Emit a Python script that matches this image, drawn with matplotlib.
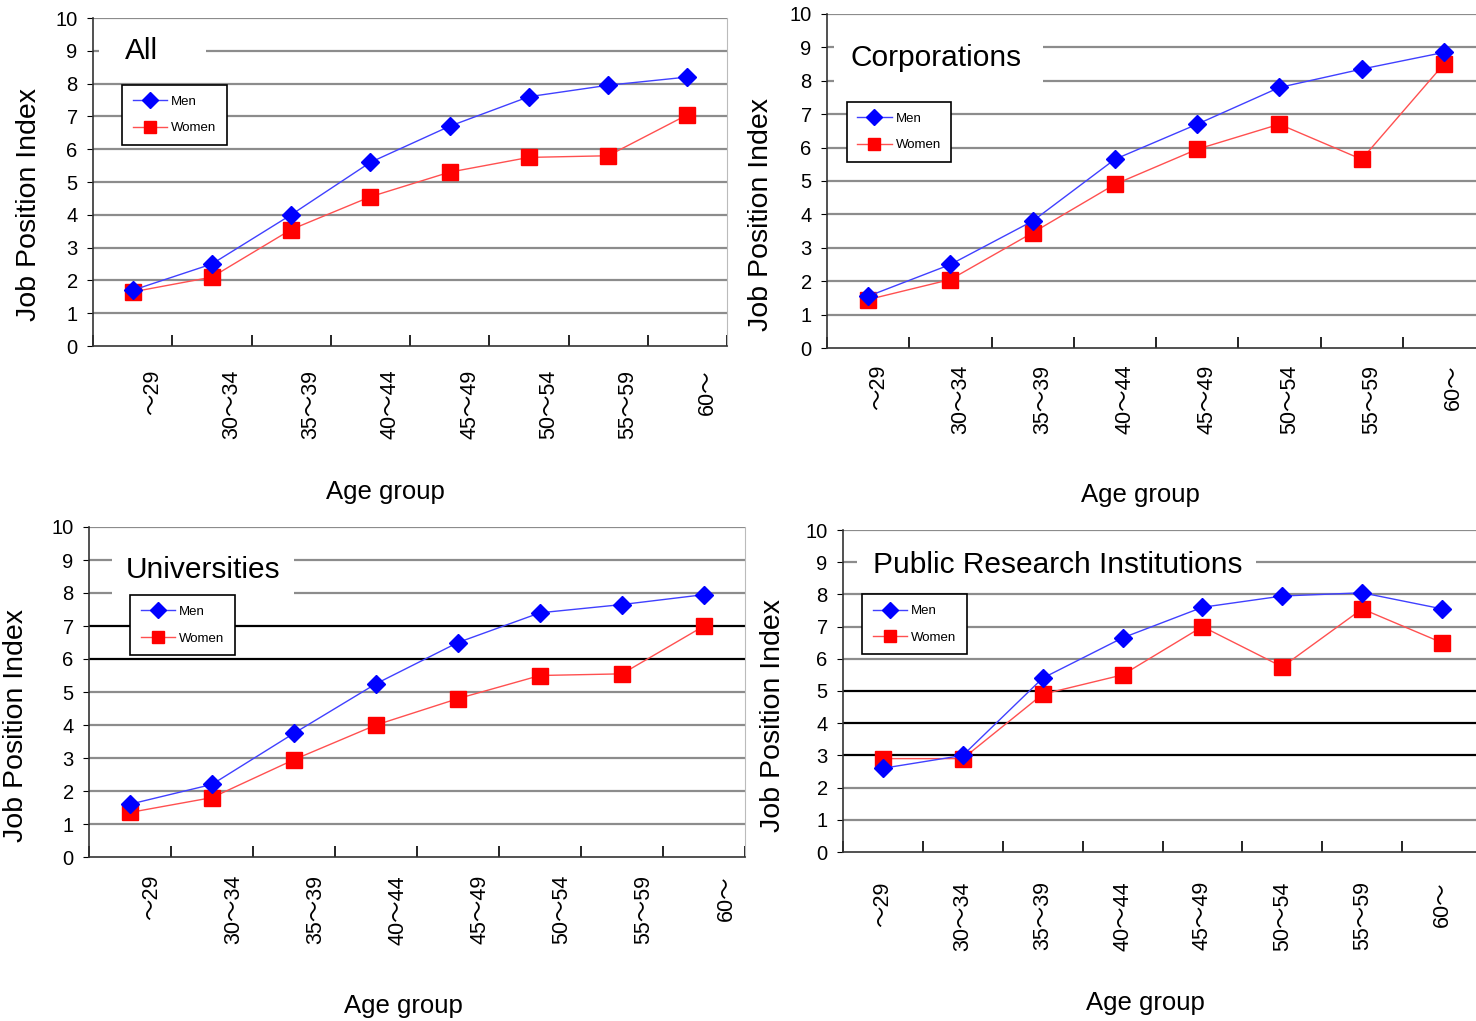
import numpy as np
import matplotlib
matplotlib.use('Agg')
import matplotlib.pyplot as plt
from matplotlib.patches import Rectangle
from matplotlib.transforms import ScaledTranslation

plt.rcParams['font.family'] = ['Liberation Sans', 'Noto Sans CJK KR', 'DejaVu Sans']

age_groups = ['～29', '30～34', '35～39', '40～44', '45～49', '50～54', '55～59', '60～']

all_men = [1.7, 2.5, 4.0, 5.6, 6.7, 7.6, 7.95, 8.2]
all_women = [1.65, 2.1, 3.55, 4.55, 5.3, 5.75, 5.8, 7.05]

corp_men = [1.55, 2.5, 3.8, 5.65, 6.7, 7.8, 8.35, 8.85]
corp_women = [1.45, 2.05, 3.45, 4.9, 5.95, 6.7, 5.65, 8.5]

univ_men = [1.6, 2.2, 3.75, 5.25, 6.5, 7.4, 7.65, 7.95]
univ_women = [1.35, 1.8, 2.95, 4.0, 4.8, 5.5, 5.55, 7.0]

pri_men = [2.6, 3.0, 5.4, 6.65, 7.6, 7.95, 8.05, 7.55]
pri_women = [2.9, 2.9, 4.9, 5.5, 7.0, 5.75, 7.55, 6.5]

W, H = 1476, 1021

# panel layout in pixels: left, top, right, bottom
panels = [
    dict(title='All', men=all_men, women=all_women, rect=(93, 18, 727, 346),
         title_xy=(0.4, 9.0), gap=(0.08, 8.6, 1.35, 0.9), legend_xy=(0.046, 0.796),
         dark=[], ylab=(-0.080, 0.43), xlab=(0.462, -0.445), xpad=17, xshift=20),
    dict(title='Corporations', men=corp_men, women=corp_women, rect=(827, 14, 1485, 348),
         title_xy=(0.28, 8.68), gap=(0.08, 7.6, 2.55, 1.9), legend_xy=(0.030, 0.737),
         dark=[], ylab=(-0.081, 0.40), xlab=(0.476, -0.44), xpad=12, xshift=10),
    dict(title='Universities', men=univ_men, women=univ_women, rect=(89, 527, 745, 857),
         title_xy=(0.45, 8.7), gap=(0.28, 7.6, 2.22, 1.9), legend_xy=(0.0625, 0.794),
         dark=[6, 7], ylab=(-0.091, 0.40), xlab=(0.48, -0.45), xpad=13, xshift=22),
    dict(title='Public Research Institutions', men=pri_men, women=pri_women, rect=(843, 530, 1482, 852),
         title_xy=(0.38, 8.91), gap=(0.18, 8.6, 4.99, 0.9), legend_xy=(0.030, 0.80),
         dark=[3, 4, 5], ylab=(-0.089, 0.425), xlab=(0.474, -0.469), xpad=21, xshift=0),
]

fig = plt.figure(figsize=(W / 100, H / 100), dpi=100)

x = np.arange(len(age_groups)) + 0.5

for p in panels:
    l, t, r, b = p['rect']
    ax = fig.add_axes([l / W, 1 - b / H, (r - l) / W, (b - t) / H])
    ax.set_xlim(0, len(age_groups))
    ax.set_ylim(0, 10)

    for v in range(1, 11):
        c = 'black' if v in p['dark'] else '#8c8c8c'
        ax.axhline(v, color=c, lw=1.6, zorder=1)

    gx, gy, gw, gh = p['gap']
    ax.add_patch(Rectangle((gx, gy), gw, gh, facecolor='white', edgecolor='none', zorder=2))
    ax.text(p['title_xy'][0], p['title_xy'][1], p['title'], fontsize=21.5, va='center',
            ha='left', zorder=3)

    ax.plot(x, p['men'], '-', color='#4040ff', lw=1.0, marker='D', markersize=9,
            markerfacecolor='#0000ff', markeredgecolor='#0000ff', label='Men', zorder=5)
    ax.plot(x, p['women'], '-', color='#ff5050', lw=1.0, marker='s', markersize=11,
            markerfacecolor='#ff0000', markeredgecolor='#ff0000', label='Women', zorder=4)

    leg = ax.legend(loc='upper left', bbox_to_anchor=p['legend_xy'], borderaxespad=0,
                    fontsize=9.5, fancybox=False, framealpha=1, edgecolor='black',
                    handlelength=2.6, handletextpad=0.3, markerscale=0.85,
                    borderpad=0.8, labelspacing=1.1)
    leg.get_frame().set_linewidth(1.2)
    leg.set_zorder(6)

    ax.set_yticks(range(0, 11))
    ax.tick_params(axis='y', direction='out', length=4, labelsize=14.5, pad=7)

    ax.set_xticks(range(0, len(age_groups) + 1))
    ax.set_xticklabels([])
    ax.tick_params(axis='x', which='major', direction='in', length=8, width=1.2)
    ax.set_xticks(x, minor=True)
    ax.set_xticklabels(age_groups, minor=True, rotation=90, fontsize=15.5)
    ax.tick_params(axis='x', which='minor', length=0, pad=p['xpad'])
    shift = ScaledTranslation(p['xshift'] / 100, 0, fig.dpi_scale_trans)
    for lab in ax.get_xticklabels(minor=True):
        lab.set_transform(lab.get_transform() + shift)

    ax.set_ylabel('Job Position Index', fontsize=20.5)
    ax.yaxis.set_label_coords(*p['ylab'])
    ax.set_xlabel('Age group', fontsize=18.5)
    ax.xaxis.set_label_coords(*p['xlab'])
    ax.xaxis.label.set_va('center')

    for s in ['left', 'bottom']:
        ax.spines[s].set_color('#333333')
        ax.spines[s].set_linewidth(1.2)
    ax.spines['top'].set_visible(False)
    ax.spines['right'].set_color('#bbbbbb')

fig.savefig('out.png', dpi=100, facecolor='white')
